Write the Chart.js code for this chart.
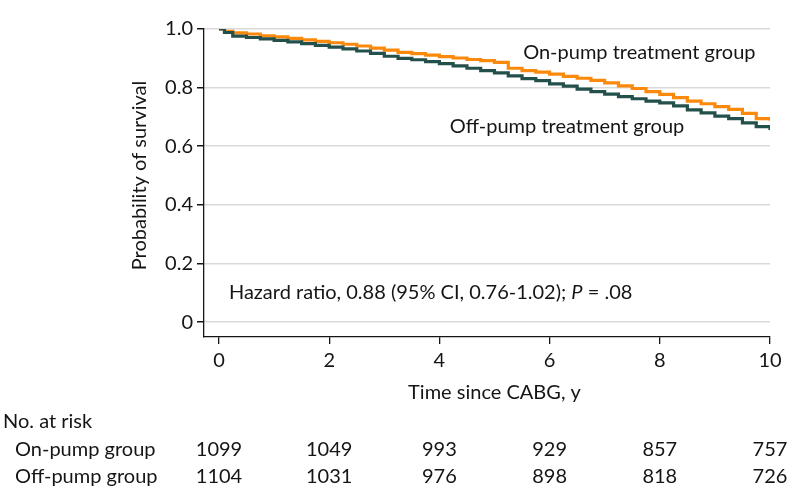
<!DOCTYPE html>
<html>
<head>
<meta charset="utf-8">
<script src="https://cdn.jsdelivr.net/npm/chart.js@4.4.1/dist/chart.umd.min.js"></script>
<style>
  html, body { margin: 0; padding: 0; background: #fff; }
  #wrap { width: 794px; height: 504px; }
</style>
</head>
<body>
<div id="wrap"><canvas id="kmChart"></canvas></div>
<script>
// survival curves (years since CABG)
const years = [0, 0.1, 0.25, 0.5, 0.75, 1, 1.25, 1.5, 1.75, 2, 2.25, 2.5, 2.75, 3, 3.25, 3.5, 3.75, 4,
    4.25, 4.5, 4.75, 5, 5.25, 5.5, 5.75, 6, 6.25, 6.5, 6.75, 7, 7.25, 7.5, 7.75, 8, 8.25, 8.5, 8.75,
    9, 9.25, 9.5, 9.75, 10];
const onPump = [1.000, 0.992, 0.987, 0.983, 0.977, 0.973, 0.968, 0.963, 0.958, 0.953, 0.948, 0.942,
    0.935, 0.928, 0.920, 0.916, 0.911, 0.906, 0.901, 0.896, 0.892, 0.886, 0.866, 0.858, 0.853, 0.846,
    0.838, 0.832, 0.825, 0.816, 0.806, 0.797, 0.786, 0.777, 0.766, 0.754, 0.745, 0.735, 0.726, 0.712,
    0.694, 0.687];
const offPump = [1.000, 0.988, 0.976, 0.971, 0.966, 0.961, 0.956, 0.950, 0.944, 0.938, 0.932, 0.925,
    0.917, 0.907, 0.900, 0.895, 0.889, 0.882, 0.874, 0.866, 0.858, 0.850, 0.840, 0.831, 0.824, 0.813,
    0.805, 0.795, 0.786, 0.778, 0.769, 0.762, 0.754, 0.748, 0.738, 0.724, 0.714, 0.703, 0.694, 0.680,
    0.667, 0.655];

const xTicks = [0, 2, 4, 6, 8, 10];
const yTicks = [0, 0.2, 0.4, 0.6, 0.8, 1.0];
const riskOnPump = [1099, 1049, 993, 929, 857, 757];
const riskOffPump = [1104, 1031, 976, 898, 818, 726];

const FONT = 'Lato, "Noto Sans", sans-serif';
const ORANGE = '#fb8a0c';
const TEAL = '#24504c';
const INK = '#151515';

function toPoints(xs, ys) {
    return xs.map((x, i) => ({ x: x, y: ys[i] }));
}

const textPlugin = {
    id: 'kmText',
    afterDraw(chart) {
        const ctx = chart.ctx;
        const xs = chart.scales.x;
        const ys = chart.scales.y;
        ctx.save();
        ctx.fillStyle = INK;
        ctx.font = '20px ' + FONT;
        ctx.textBaseline = 'middle';

        // curve labels
        ctx.textAlign = 'left';
        ctx.fillText('On-pump treatment group', xs.getPixelForValue(5.52), ys.getPixelForValue(0.921));
        ctx.fillText('Off-pump treatment group', xs.getPixelForValue(4.19), ys.getPixelForValue(0.666));

        // hazard ratio line with italic P
        let hx = xs.getPixelForValue(0.18);
        const hy = ys.getPixelForValue(0.099);
        const parts = [['Hazard ratio, 0.88 (95% CI, 0.76-1.02); ', ''], ['P', 'italic '], [' = .08', '']];
        parts.forEach(p => {
            ctx.font = p[1] + '20px ' + FONT;
            ctx.fillText(p[0], hx, hy);
            hx += ctx.measureText(p[0]).width;
        });
        ctx.font = '20px ' + FONT;

        // axis titles
        ctx.textAlign = 'center';
        ctx.fillText('Time since CABG, y', xs.getPixelForValue(5), 393);
        ctx.save();
        ctx.translate(140, ys.getPixelForValue(0.5));
        ctx.rotate(-Math.PI / 2);
        ctx.fillText('Probability of survival', 0, 0);
        ctx.restore();

        // number at risk table
        ctx.textAlign = 'left';
        ctx.fillText('No. at risk', 3, 422);
        ctx.fillText('On-pump group', 15, 450);
        ctx.fillText('Off-pump group', 15, 477);
        ctx.textAlign = 'center';
        xTicks.forEach((t, i) => {
            const px = xs.getPixelForValue(t);
            ctx.fillText(String(riskOnPump[i]), px, 450);
            ctx.fillText(String(riskOffPump[i]), px, 477);
        });
        ctx.restore();
    }
};

new Chart(document.getElementById('kmChart'), {
    type: 'line',
    data: {
        datasets: [
            {
                label: 'On-pump treatment group',
                data: toPoints(years, onPump),
                borderColor: ORANGE,
                borderWidth: 3.2,
                pointRadius: 0,
                stepped: 'before',
                order: 2
            },
            {
                label: 'Off-pump treatment group',
                data: toPoints(years, offPump),
                borderColor: TEAL,
                borderWidth: 3.2,
                pointRadius: 0,
                stepped: 'before',
                order: 1
            }
        ]
    },
    options: {
        responsive: true,
        maintainAspectRatio: false,
        animation: false,
        layout: { padding: { top: 29, right: 24, left: 0, bottom: 0 } },
        plugins: {
            legend: { display: false },
            tooltip: { enabled: false }
        },
        scales: {
            x: {
                type: 'linear',
                min: -0.272,
                max: 10,
                afterBuildTicks: s => { s.ticks = xTicks.map(v => ({ value: v })); },
                afterFit: s => { s.height = 167; },
                grid: { drawOnChartArea: false, drawTicks: true, tickLength: 7, tickColor: INK, lineWidth: 1.3 },
                border: { color: INK, width: 1.3 },
                ticks: { color: INK, font: { family: FONT, size: 20 }, padding: 5, maxRotation: 0 }
            },
            y: {
                min: -0.051,
                max: 1,
                afterBuildTicks: s => { s.ticks = yTicks.map(v => ({ value: v })); },
                afterFit: s => { s.width = 204; },
                grid: { color: '#d9d9d9', lineWidth: 1.5, drawTicks: true, tickLength: 7, tickColor: INK },
                border: { color: INK, width: 1.3 },
                ticks: {
                    color: INK,
                    font: { family: FONT, size: 20 },
                    padding: 4,
                    callback: v => (v === 0 ? '0' : v.toFixed(1))
                }
            }
        }
    },
    plugins: [textPlugin]
});
</script>
</body>
</html>
